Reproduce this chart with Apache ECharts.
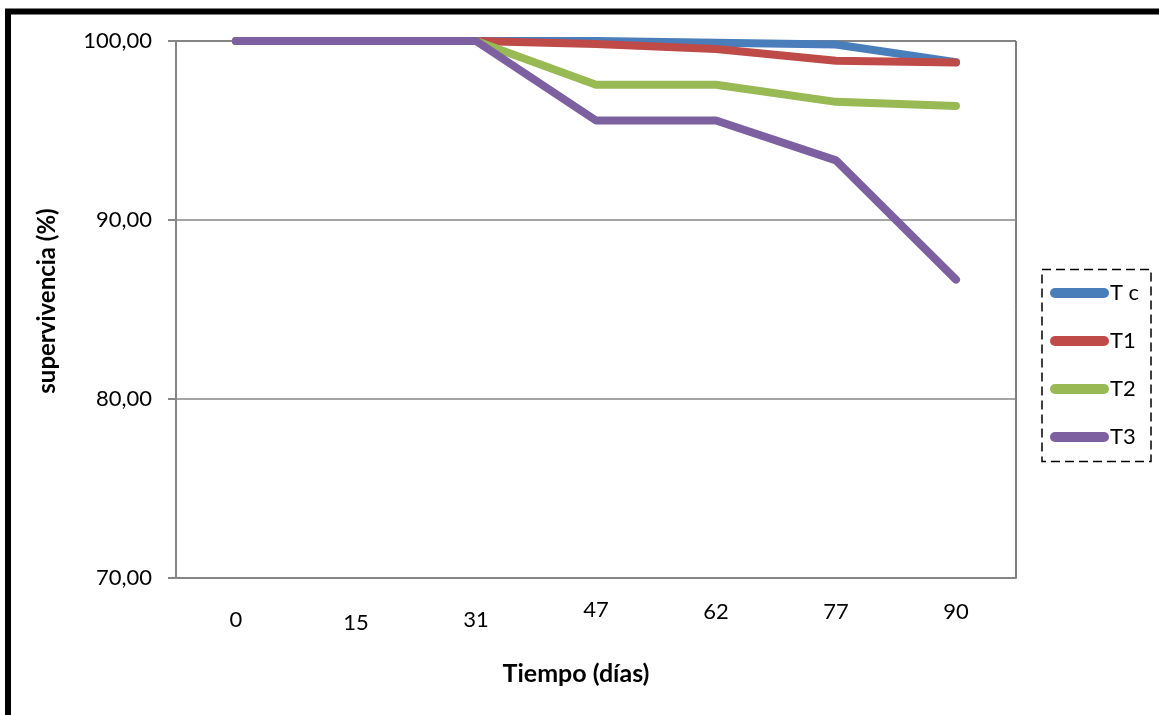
<!DOCTYPE html>
<html>
<head>
<meta charset="utf-8">
<script src="https://cdn.jsdelivr.net/npm/echarts@6/dist/echarts.min.js"></script>
<style>
  html, body { margin: 0; padding: 0; background: #fff; }
  #chart { width: 1159px; height: 715px; }
</style>
</head>
<body>
<div id="chart"></div>
<script>
// Survival (%) per treatment over time (days)
const dias = ['0', '15', '31', '47', '62', '77', '90'];
const serieNombres = ['T c', 'T1', 'T2', 'T3'];
const Tc = [100, 100, 100, 100, 99.9, 99.8, 98.82];
const T1 = [100, 100, 100, 99.83, 99.55, 98.9, 98.8];
const T2 = [100, 100, 100, 97.56, 97.56, 96.6, 96.37];
const T3 = [100, 100, 100, 95.56, 95.56, 93.33, 86.67];
const yTicks = [70, 80, 90, 100];

const colores = ['#4A7EBB', '#BE4B48', '#98B954', '#7D60A0'];
const FONT = 'Lato, "Noto Sans", sans-serif';

// the day labels sit at slightly different heights under the axis
const labelRich = ['d', 'e', 'd', 'a', 'b', 'b', 'b'];

const chart = echarts.init(document.getElementById('chart'), null, { renderer: 'canvas' });

const valores = [Tc, T1, T2, T3];
const series = valores.map((vals, i) => ({
  name: serieNombres[i],
  type: 'line',
  data: vals,
  showSymbol: false,
  symbol: 'none',
  clip: true,
  z: 2 + i,
  lineStyle: { color: colores[i], width: 8, cap: 'round', join: 'round' },
  itemStyle: { color: colores[i] }
}));

const capsule = 'path://M5,0 L54,0 A5,5 0 0 1 54,10 L5,10 A5,5 0 0 1 5,0 Z';

chart.setOption({
  backgroundColor: '#ffffff',
  animation: false,
  grid: {
    left: 176, right: 143, top: 41, bottom: 137,
    show: true, borderColor: '#000', borderWidth: 1, backgroundColor: 'transparent'
  },
  legend: {
    orient: 'vertical',
    left: 1050, top: 282,
    padding: 0,
    itemWidth: 59, itemHeight: 10,
    itemGap: 26,
    icon: capsule,
    textStyle: { fontFamily: FONT, fontSize: 22, color: '#000', padding: [0, 0, 0, -4] },
    data: serieNombres
  },
  xAxis: {
    type: 'category',
    data: dias,
    boundaryGap: true,
    axisLine: { show: true, lineStyle: { color: '#868686', width: 2 } },
    axisTick: { show: false },
    axisLabel: {
      margin: 20,
      formatter: (v, idx) => '{' + labelRich[idx] + '|' + v + '}',
      rich: {
        a: { fontFamily: FONT, fontSize: 22, color: '#000', lineHeight: 24 },
        b: { fontFamily: FONT, fontSize: 22, color: '#000', lineHeight: 28 },
        d: { fontFamily: FONT, fontSize: 22, color: '#000', lineHeight: 44 },
        e: { fontFamily: FONT, fontSize: 22, color: '#000', lineHeight: 50 }
      }
    },
    name: 'Tiempo (días)',
    nameLocation: 'middle',
    nameGap: 83,
    nameTextStyle: { fontFamily: FONT, fontSize: 25, fontWeight: 'bold', color: '#000', padding: [0, 40, 0, 0] }
  },
  yAxis: {
    type: 'value',
    min: yTicks[0],
    max: yTicks[yTicks.length - 1],
    interval: 10,
    axisLine: { show: true, lineStyle: { color: '#868686', width: 2 } },
    axisTick: { show: true, length: 8, lineStyle: { color: '#868686', width: 2 } },
    splitLine: { show: true, lineStyle: { color: '#868686', width: 1.5 } },
    axisLabel: {
      margin: 24,
      fontFamily: FONT, fontSize: 22, color: '#000',
      formatter: v => v.toFixed(2).replace('.', ',')
    },
    name: 'supervivencia (%)',
    nameLocation: 'middle',
    nameGap: 117,
    nameTextStyle: { fontFamily: FONT, fontSize: 24, fontWeight: 'bold', color: '#000', padding: [0, 0, 0, 17] }
  },
  graphic: [
    {
      type: 'rect', silent: true, z: 100,
      shape: { x: 8, y: 11.5, width: 1300, height: 900 },
      style: { fill: 'none', stroke: '#000', lineWidth: 6 }
    },
    {
      type: 'rect', silent: true, z: 100,
      shape: { x: 1042, y: 269.5, width: 109, height: 192 },
      style: { fill: 'none', stroke: '#000', lineWidth: 1.5, lineDash: [9, 5] }
    }
  ],
  series: series
});
</script>
</body>
</html>
